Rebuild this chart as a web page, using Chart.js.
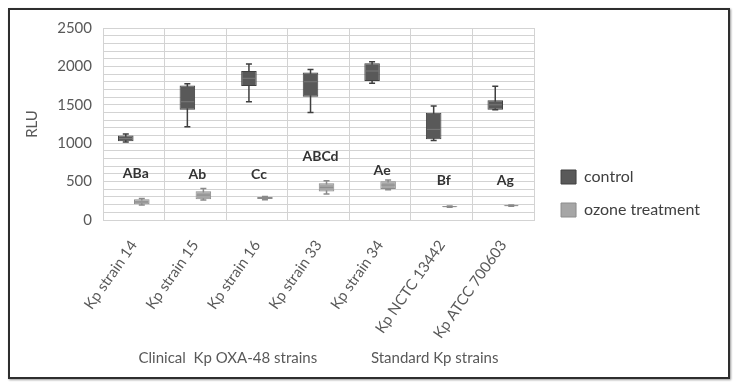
<!DOCTYPE html>
<html>
<head>
<meta charset="utf-8">
<script src="https://cdn.jsdelivr.net/npm/chart.js@4.4.1/dist/chart.umd.min.js"></script>
<style>
  html, body { margin: 0; padding: 0; background: #fff; }
  #wrap { position: relative; width: 735px; height: 386px; }
  #chart { position: absolute; left: 0; top: 0; }
  #frame { position: absolute; left: 8px; top: 8px; width: 718px; height: 367px; border: 2px solid #2e2e2e; box-shadow: 1px 1px 2px #999; pointer-events: none; }
</style>
</head>
<body>
<div id="wrap">
  <canvas id="chart" width="735" height="386"></canvas>
  <div id="frame"></div>
</div>
<script>
// categories
const strains = ["Kp strain 14", "Kp strain 15", "Kp strain 16", "Kp strain 33", "Kp strain 34", "Kp NCTC 13442", "Kp ATCC 700603"];

// control (RLU)
const controlMin    = [1015, 1215, 1540, 1400, 1780, 1035, 1435];
const controlQ1     = [1025, 1435, 1745, 1605, 1810, 1050, 1435];
const controlMedian = [1060, 1540, 1845, 1800, 1940, 1180, 1500];
const controlQ3     = [1100, 1750, 1940, 1920, 2040, 1395, 1560];
const controlMax    = [1120, 1775, 2030, 1960, 2060, 1485, 1740];

// ozone treatment (RLU)
const ozoneMin    = [195, 260, 265, 340, 395, 165, 180];
const ozoneQ1     = [205, 270, 272, 370, 405, 170, 183];
const ozoneMedian = [235, 325, 288, 425, 455, 174, 187];
const ozoneQ3     = [270, 375, 300, 480, 505, 178, 190];
const ozoneMax    = [280, 410, 305, 510, 520, 182, 194];

// significance letters and the value they sit at
const groupLetters = ["ABa", "Ab", "Cc", "ABCd", "Ae", "Bf", "Ag"];
const letterValues = [600, 590, 590, 830, 640, 510, 510];

const yTicks = [0, 500, 1000, 1500, 2000, 2500];
const axisTitle = "Clinical  Kp OXA-48 strains              Standard Kp strains";

const stats = [
  { min: controlMin, med: controlMedian, max: controlMax, whisker: "#3f3f3f", median: "#7a7a7a" },
  { min: ozoneMin, med: ozoneMedian, max: ozoneMax, whisker: "#8a8a8a", median: "#8a8a8a" }
];

const boxPlot = {
  id: "boxPlot",
  beforeDatasetsDraw(chart) {
    const ctx = chart.ctx, y = chart.scales.y;
    stats.forEach((s, d) => {
      chart.getDatasetMeta(d).data.forEach((bar, i) => {
        const top = y.getPixelForValue(s.max[i]), bot = y.getPixelForValue(s.min[i]);
        ctx.save();
        ctx.strokeStyle = s.whisker;
        ctx.lineWidth = 1.5;
        ctx.beginPath();
        ctx.moveTo(bar.x, top); ctx.lineTo(bar.x, bot);
        ctx.moveTo(bar.x - 3, top); ctx.lineTo(bar.x + 3, top);
        ctx.moveTo(bar.x - 3, bot); ctx.lineTo(bar.x + 3, bot);
        ctx.stroke();
        ctx.restore();
      });
    });
  },
  afterDatasetsDraw(chart) {
    const ctx = chart.ctx, x = chart.scales.x, y = chart.scales.y;
    stats.forEach((s, d) => {
      chart.getDatasetMeta(d).data.forEach((bar, i) => {
        const m = y.getPixelForValue(s.med[i]);
        ctx.save();
        ctx.strokeStyle = s.median;
        ctx.lineWidth = 1;
        ctx.beginPath();
        ctx.moveTo(bar.x - bar.width / 2 + 1, m); ctx.lineTo(bar.x + bar.width / 2 - 1, m);
        ctx.stroke();
        ctx.restore();
      });
    });
    ctx.save();
    ctx.font = "bold 14px Lato";
    ctx.fillStyle = "#333";
    ctx.textAlign = "center";
    ctx.textBaseline = "middle";
    groupLetters.forEach((t, i) => {
      ctx.fillText(t, x.getPixelForValue(i) + 2, y.getPixelForValue(letterValues[i]));
    });
    ctx.restore();
  }
};

Chart.defaults.font.family = "Lato";
Chart.defaults.color = "#595959";

new Chart(document.getElementById("chart"), {
  type: "bar",
  data: {
    labels: strains,
    datasets: [
      {
        label: "control",
        data: controlQ1.map((v, i) => [v, controlQ3[i]]),
        backgroundColor: "#595959",
        borderColor: "#404040",
        borderWidth: 1,
        borderSkipped: false
      },
      {
        label: "ozone treatment",
        data: ozoneQ1.map((v, i) => [v, ozoneQ3[i]]),
        backgroundColor: "#a6a6a6",
        borderColor: "#8c8c8c",
        borderWidth: 1,
        borderSkipped: false
      }
    ]
  },
  options: {
    responsive: false,
    animation: false,
    devicePixelRatio: 1,
    categoryPercentage: 0.52,
    barPercentage: 0.97,
    layout: { padding: { top: 28, right: 25, bottom: 0, left: 0 } },
    plugins: {
      tooltip: { enabled: false },
      legend: {
        position: "right",
        align: "start",
        maxWidth: 300,
        title: { display: true, text: "", font: { size: 12, lineHeight: 1.2 }, padding: { top: 109.6, bottom: 0 } },
        labels: { boxWidth: 15, boxHeight: 14, padding: 17, color: "#404040", font: { size: 16 } }
      }
    },
    scales: {
      x: {
        grid: { color: "#d3d3d3", drawTicks: false },
        border: { color: "#d3d3d3" },
        ticks: { autoSkip: false, minRotation: 55, maxRotation: 55, padding: 17, font: { size: 15 } },
        title: { display: true, text: axisTitle, font: { size: 15 }, padding: { top: 0, bottom: 19 } },
        afterFit(s) { s.height = 166; }
      },
      y: {
        min: 0,
        max: 2500,
        grid: { color: "#d3d3d3", drawTicks: false },
        border: { color: "#d3d3d3" },
        ticks: {
          stepSize: 100,
          autoSkip: false,
          padding: 11,
          font: { size: 15 },
          callback: v => yTicks.includes(v) ? v : ""
        },
        title: { display: true, text: "RLU", font: { size: 15 }, padding: { top: 23, bottom: 0 } },
        afterFit(s) { s.width = 103; }
      },
      gap: {
        type: "linear",
        position: "right",
        display: true,
        grid: { display: false },
        border: { display: false },
        ticks: { display: false },
        afterFit(s) { s.width = 10; }
      }
    }
  },
  plugins: [boxPlot]
});
</script>
</body>
</html>
